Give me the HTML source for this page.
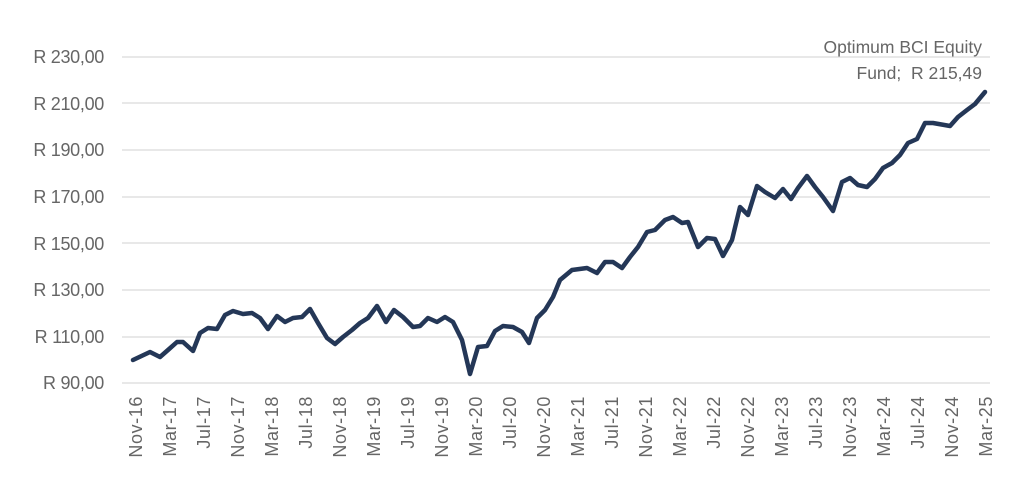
<!DOCTYPE html>
<html><head><meta charset="utf-8"><style>
html,body{margin:0;padding:0;background:#fff;}
</style></head><body>
<svg width="1024" height="495" viewBox="0 0 1024 495" xmlns="http://www.w3.org/2000/svg" font-family="Liberation Sans, sans-serif">
<g stroke="#d9d9d9" stroke-width="1.3">
<line x1="122" x2="990" y1="57" y2="57"/><line x1="122" x2="990" y1="103" y2="103"/>
<line x1="122" x2="990" y1="150" y2="150"/><line x1="122" x2="990" y1="197" y2="197"/>
<line x1="122" x2="990" y1="243" y2="243"/><line x1="122" x2="990" y1="290" y2="290"/>
<line x1="122" x2="990" y1="337" y2="337"/><line x1="122" x2="990" y1="383" y2="383"/>
</g>
<g fill="#666" font-size="18" text-anchor="end" letter-spacing="-0.3">
<text x="104" y="63">R 230,00</text><text x="104" y="110">R 210,00</text>
<text x="104" y="156">R 190,00</text><text x="104" y="203">R 170,00</text>
<text x="104" y="250">R 150,00</text><text x="104" y="296">R 130,00</text>
<text x="104" y="343">R 110,00</text><text x="104" y="389">R 90,00</text>
</g>
<g fill="#666" font-size="18" text-anchor="end" letter-spacing="0.6">
<text transform="translate(142,396) rotate(-90)">Nov-16</text>
<text transform="translate(176,396) rotate(-90)">Mar-17</text>
<text transform="translate(210,396) rotate(-90)">Jul-17</text>
<text transform="translate(244,396) rotate(-90)">Nov-17</text>
<text transform="translate(278,396) rotate(-90)">Mar-18</text>
<text transform="translate(312,396) rotate(-90)">Jul-18</text>
<text transform="translate(346,396) rotate(-90)">Nov-18</text>
<text transform="translate(380,396) rotate(-90)">Mar-19</text>
<text transform="translate(414,396) rotate(-90)">Jul-19</text>
<text transform="translate(448,396) rotate(-90)">Nov-19</text>
<text transform="translate(482,396) rotate(-90)">Mar-20</text>
<text transform="translate(516,396) rotate(-90)">Jul-20</text>
<text transform="translate(550,396) rotate(-90)">Nov-20</text>
<text transform="translate(584,396) rotate(-90)">Mar-21</text>
<text transform="translate(618,396) rotate(-90)">Jul-21</text>
<text transform="translate(652,396) rotate(-90)">Nov-21</text>
<text transform="translate(686,396) rotate(-90)">Mar-22</text>
<text transform="translate(720,396) rotate(-90)">Jul-22</text>
<text transform="translate(754,396) rotate(-90)">Nov-22</text>
<text transform="translate(788,396) rotate(-90)">Mar-23</text>
<text transform="translate(822,396) rotate(-90)">Jul-23</text>
<text transform="translate(856,396) rotate(-90)">Nov-23</text>
<text transform="translate(890,396) rotate(-90)">Mar-24</text>
<text transform="translate(924,396) rotate(-90)">Jul-24</text>
<text transform="translate(958,396) rotate(-90)">Nov-24</text>
<text transform="translate(992,396) rotate(-90)">Mar-25</text>
</g>
<polyline fill="none" stroke="#243757" stroke-width="4.5" stroke-linejoin="round" stroke-linecap="round" points="133,360 150,352 160,357 168,350 177,342 183,342 193,351 200,333 208,328 217,329 225,315 233,311 243,314 252,313 260,318 268,329 277,316 285,322 293,318 302,317 310,309 318,323 327,338 335,344 343,337 352,330 360,323 368,318 377,306 386,322 394,310 403,317 413,327 420,326 428,318 437,322 445,317 453,322 462,340 470,374 478,347 487,346 495,331 503,326 513,327 522,332 529,343 537,318 545,310 553,297 560,280 572,270 587,268 597,273 605,262 613,262 622,268 630,257 638,247 647,232 655,230 665,220 673,217 682,223 688,222 698,247 707,238 715,239 723,256 732,240 740,207 748,215 757,186 765,192 775,198 783,189 791,199 798,188 807,176 815,187 823,197 833,211 842,182 850,178 858,185 867,187 875,179 883,168 892,163 900,155 908,143 917,139 925,123 933,123 950,126 958,117 967,110 975,104 985,92"/>
<g fill="#666" font-size="17.5" text-anchor="end">
<text x="982" y="53">Optimum BCI Equity</text>
<text x="982" y="79">Fund;&#160; R 215,49</text>
</g>
</svg>
</body></html>
